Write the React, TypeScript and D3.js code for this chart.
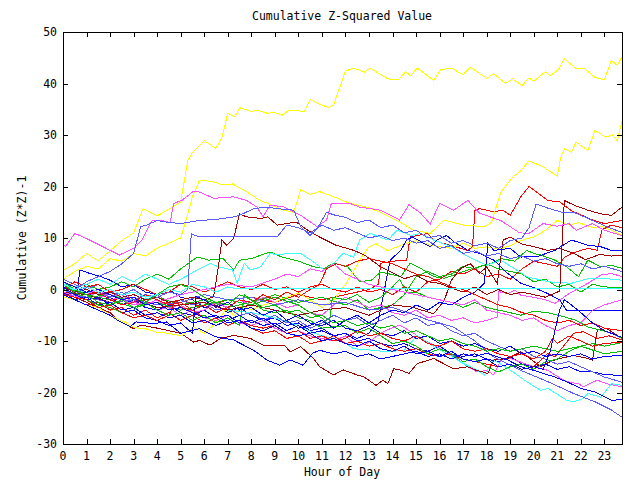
import React from "react";
import * as d3 from "d3";

type P = [number, number];

const title = "Cumulative Z-Squared Value";
const xLabel = "Hour of Day";
const yLabel = "Cumulative (Z*Z)-1";
const xTicks = d3.range(0, 24);
const yTicks = [-30, -20, -10, 0, 10, 20, 30, 40, 50];
const xDomain: [number, number] = [0, 23.75];
const yDomain: [number, number] = [-30, 50];

const palette = {
  red: "#ff0000",
  green: "#00c000",
  blue: "#0000ff",
  magenta: "#ff50ff",
  cyan: "#40ffff",
  darkred: "#a00000",
  yellow: "#ffff00",
  periwinkle: "#5a5aff",
};

const yellow1: P[] = [[0,3.7],[0.5,5],[1,7],[1.5,5.6],[2,7.5],[2.5,9.5],[3,11],[3.4,15.7],[4,14.3],[4.5,15.6],[5,17],[5.3,25],[5.5,26.6],[6,28.9],[6.5,27.4],[6.75,29.5],[7,34.2],[7.3,33.5],[7.5,35.3],[8,34.6],[8.25,34.8],[8.7,34.2],[9,34.4],[9.3,33.8],[9.6,34.8],[10.25,34.6],[10.5,36.9],[10.9,36],[11.3,35.3],[11.5,35.9],[12,42.4],[12.35,43],[12.8,42.2],[13.05,43],[13.8,40.9],[14.25,40.7],[14.55,42.3],[14.77,41.5],[15.05,43],[15.75,40.6],[16.05,42.7],[16.5,43],[17,41.7],[17.3,43.2],[18,41],[18.3,41.9],[18.8,40],[19.1,40.9],[19.5,39.6],[19.8,41.1],[20,40.4],[20.5,42.3],[20.7,41.5],[21.05,42.7],[21.3,44.8],[21.8,42.9],[22.15,42.9],[22.6,41.2],[23,40.7],[23.3,44.5],[23.55,43.5],[23.75,45.2]];
const yellow2: P[] = [[0,2],[0.5,3.5],[1,4.5],[1.5,4],[2,6],[2.5,5.5],[3,7],[3.5,6.5],[4,8],[4.5,9],[5,10],[5.25,13.8],[5.5,18],[5.8,21.2],[6.3,21],[6.8,20.3],[7.2,20.5],[7.8,19],[8.3,17.5],[8.8,16.5],[9.3,15.5],[9.8,15],[10.1,19.3],[10.5,18.5],[10.9,19],[11.5,18],[12.2,16.7],[12.9,16],[13.5,15],[14.2,13.4],[14.9,11.5],[15.6,10.9],[16.2,13.5],[17,12.5],[17.9,12.2],[18.2,13],[18.6,18.9],[19.1,21.8],[19.4,22.8],[19.8,25],[20.4,23.8],[21,22],[21.15,25.7],[21.3,27.3],[21.6,26.7],[21.8,28.6],[22.3,27],[22.6,30.9],[23.05,29.6],[23.35,30],[23.55,28.9],[23.75,32.7]];
const yellow3: P[] = [[0,-1.5],[0.5,-2],[1,-3],[1.5,-3.5],[2,-5],[2.7,-6.5],[3,-7.4],[3.5,-7.6],[4,-8.3],[4.5,-8.5],[5,-9],[5.3,-8],[5.6,-7.4],[6,-8.5],[6.5,-6.5],[6.9,-4],[7.3,-5],[7.6,-3],[8,-4],[8.5,-3],[9,-2.5],[9.5,-1.5],[10,-0.7],[10.5,-2],[11,-3.5],[11.5,-2],[12,1],[12.4,4],[12.7,6.4],[13,8.3],[13.3,8.9],[13.8,7.5],[14.3,8.5],[15,9.5],[15.7,8.5],[16.5,8],[17,9],[17.5,8],[18,8.3],[18.5,7.8],[19,8.5],[19.45,9.5],[20,10.2],[20.5,11.5],[21,13.4],[21.5,12.5],[21.9,13],[22.5,12],[22.9,12.2],[23.3,11.5],[23.75,10.5]];
const magenta1: P[] = [[0,8.9],[0.1,8.3],[0.5,10.9],[1,9.9],[2,7.6],[2.4,6.7],[3,8],[3.35,9.6],[3.77,13.3],[4.13,13.5],[4.55,13],[4.7,16.7],[5.05,17.3],[5.55,19.1],[5.83,18.9],[6.4,17.7],[7.25,18],[7.8,17.3],[8.24,16],[8.5,14.1],[8.8,16.4],[9.4,16],[10.1,14.4],[10.8,12.2],[11.2,13.5],[11.4,16.7],[12.2,16.7],[12.6,16],[13.5,15.4],[14.3,13.5],[14.7,16.5],[15.2,14.8],[15.6,12.7],[16,16.7],[16.6,15.4],[17.2,17.3],[17.7,14.8],[18.6,13.4],[19.4,11],[19.8,10.9],[20.4,12.8],[21,12.3],[21.5,12.8],[21.8,11.5],[22.5,12.8],[23,11.5],[23.5,10.8],[23.75,10.5]];
const periwinkle1: P[] = [[0,1],[0.5,0],[1,1.5],[1.5,2.5],[2,3.5],[2.5,5],[3,7],[3.3,12.2],[3.55,12.5],[4,13.4],[4.4,13.1],[5,12.8],[5.8,13.4],[6.5,13.6],[7.25,14.1],[7.5,14.4],[8.1,15.7],[8.66,16],[9.1,15.7],[9.8,15.4],[10.1,12.2],[10.5,10.5],[10.8,11.8],[11.2,15],[11.5,14.5],[12,14],[12.5,13],[13,13.5],[13.5,12],[14,12.5],[14.5,11],[15,11.5],[15.5,10],[16,10.5],[16.5,9],[17,9.5],[17.5,8.5],[18,9],[18.5,8],[19,9.5],[19.5,10],[19.8,12],[20.1,16.6],[20.6,15.8],[21.2,15],[21.7,15],[22.2,14],[22.7,13],[23.2,12],[23.75,11.1]];
const periwinkle2: P[] = [[0,0],[0.5,-1],[1,0.5],[1.5,-0.5],[2,-1.5],[2.5,-0.5],[3,-2],[3.5,-1],[4,-1.5],[4.5,-0.5],[5,-1],[5.3,0],[5.45,10.8],[5.8,10.2],[9.1,10.2],[9.5,12.5],[10,12],[10.5,11],[11,12.5],[11.5,11.5],[12,12],[12.5,11],[13,10],[13.5,10.5],[14,9.5],[14.5,10],[15,9],[15.5,9.5],[16,8],[16.5,8.5],[17,7],[17.5,7.5],[18,6.5],[18.5,7],[19,6],[19.5,6.5],[20,5.5],[20.5,6],[21,5],[21.5,4.5],[22,5],[22.5,4],[23,4.5],[23.75,3.5]];
const darkred1: P[] = [[0,0.5],[0.5,-0.5],[1,0],[1.5,-1],[2,-0.5],[2.5,-1.5],[3,-1],[3.5,-2],[4,-1.5],[4.5,-2.5],[5,-2],[5.5,-1.5],[6,-2],[6.4,-1.4],[6.6,4.4],[6.75,9.6],[6.95,8.6],[7.1,9.2],[7.25,9.9],[7.5,14.7],[7.8,14.1],[8.4,13.8],[8.7,14.1],[9.1,12.5],[9.5,12.8],[9.9,13.1],[10.5,11.2],[10.9,10.2],[11.6,8.6],[12.35,7.6],[12.8,6.7],[13.5,4.4],[14.05,3.1],[14.5,2.1],[15,2.8],[15.5,1.5],[16,1.2],[16.5,0.3],[17,-0.5],[17.5,0.5],[18,-1],[18.5,0],[19,-1],[19.5,-0.5],[20,-1],[20.5,-1.5],[21.1,-0.3],[21.3,17.3],[21.7,16.4],[22.3,15.4],[22.85,14.7],[23.3,14.4],[23.75,16]];
const red1: P[] = [[0,0.5],[1,-1],[2,-2],[3,-1.5],[4,-3],[5,-2],[6,-3.5],[7,-2],[8,-1.5],[9,-2.5],[10,-1],[11,-2],[12,-1],[13,0],[13.4,1],[13.5,5.1],[14,5.5],[14.6,5.7],[14.75,10.2],[15.5,10.9],[15.75,9.6],[16.2,8.9],[17.2,7.6],[17.4,8.3],[17.5,15.4],[17.7,15.7],[18.3,15.1],[18.7,15.4],[19,14.4],[19.45,18],[19.8,20],[20.6,17.3],[21.1,17],[21.6,15.3],[22,14.5],[22.5,13.5],[23,12.8],[23.75,13.4]];
const darkred3: P[] = [[0,-0.5],[1,-1],[2,-2.5],[3,-2],[4,-3.5],[5,-3],[6,-2.5],[7,-4],[8,-3],[9,-4],[10,-5],[11,-4],[12,-3.5],[13,-5],[14,-3],[14.8,-3.4],[15.75,-4.7],[16.2,-2.1],[16.5,1.8],[16.9,4.1],[17.3,5],[17.7,3.1],[18,4.4],[18.45,1.2],[18.7,9.6],[19,10.2],[19.45,8.9],[20,8.3],[20.6,7.6],[21.1,8],[21.7,7],[22.2,5.8],[22.8,6.8],[23.3,6.5],[23.75,6.7]];
const darkred2: P[] = [[0,-0.5],[0.5,-1.5],[1,-2.5],[1.5,-3.5],[2,-4.5],[2.3,-5.9],[3,-7.6],[3.3,-6.9],[4,-7.5],[4.5,-8],[5,-8.5],[5.55,-10.2],[5.8,-9.9],[6.25,-10.8],[6.7,-9.5],[7.25,-8.9],[7.96,-9.5],[8.5,-10.8],[9.4,-10.8],[9.65,-12.1],[10.1,-11.1],[10.65,-13.4],[10.9,-15],[11.5,-16.6],[11.9,-15.6],[12.5,-16.6],[12.8,-17],[13.3,-18.6],[13.6,-17.6],[13.8,-18.3],[14.05,-15.4],[14.3,-15.6],[14.7,-16.3],[15.05,-14.4],[15.75,-13.4],[16.6,-15.4],[17.2,-15],[17.5,-15.6],[18.05,-16.3],[18.3,-13.7],[18.9,-13.4],[19.45,-12.1],[20.3,-15],[20.7,-14],[21.1,-13.4],[21.7,-12.8],[22.3,-13.4],[22.5,-13.7],[22.7,-7.9],[23.1,-7.6],[23.75,-9.5]];
const cyanFlat: P[] = [[0,1],[0.5,0],[1,0.5],[1.5,-0.5],[2,0],[2.5,-1],[3,-0.5],[3.5,-1.5],[4,-1],[4.5,0],[5,-0.5],[5.5,1],[6,0.5],[6.5,-0.5],[7,0.5],[7.3,0.2],[23.75,0.2]];
const cyanUp: P[] = [[0,1.5],[0.5,0.5],[1,1],[1.5,2],[2,1],[2.5,2.5],[3,1.5],[3.5,3],[4,2],[4.5,1],[5,2],[5.55,3.4],[6.25,5.1],[6.6,4.4],[7.2,3.8],[7.4,1.2],[7.7,5.1],[7.96,3.8],[8.4,4.4],[8.8,7],[9.2,6.7],[9.5,7],[10.1,7],[10.6,5.5],[11.1,3.8],[11.5,5.1],[11.9,7],[12.35,6.3],[12.6,9.6],[13.05,10.9],[13.8,9.6],[14.2,11.5],[14.8,10.5],[15.2,10.9],[15.75,9.6],[16.5,8.3],[17.2,6.4],[18,4.7],[18.6,5.7],[19.2,4],[19.7,2.5],[20.6,1.5],[21.6,1.2],[22.3,2.1],[23.1,2.1],[23.75,1.8]];
const cyanLow: P[] = [[0,0.5],[1,-0.5],[2,-1],[3,-2],[4,-1.5],[5,-3],[6,-2.5],[7,-4],[8,-4.5],[9,-5.5],[10,-7],[10.9,-8.9],[11.8,-9.8],[12.35,-11.5],[13.2,-11.8],[13.8,-12.1],[14.5,-11.8],[15.05,-8.9],[15.75,-11.1],[16.3,-12.4],[16.9,-14.1],[17.6,-15.7],[17.9,-16.6],[18.3,-13.7],[18.9,-15.3],[19.7,-17.9],[20.3,-19.6],[20.6,-19.2],[21.4,-21.5],[21.7,-21.8],[22.1,-21.2],[22.3,-20.2],[22.85,-20.9],[23.3,-18.3],[23.75,-18.6]];
const green1: P[] = [[0,1.5],[0.5,0.5],[1,1],[1.5,0],[2,0.5],[2.5,1.5],[3,0.5],[3.5,2],[4,3],[4.5,2],[5,4],[5.7,6.3],[6.2,5.7],[6.8,6],[7.25,3.8],[7.5,5.7],[8,6],[8.8,7.3],[9.3,6.3],[10,5.5],[10.65,4.4],[11.1,4.1],[11.5,5.1],[12.1,4.4],[12.6,1.5],[13.1,1.8],[13.5,3.4],[14.35,2.5],[14.75,5.1],[15.2,4.1],[15.75,2.5],[16.2,2.2],[16.6,2.8],[17.2,3.8],[18.2,5.1],[18.6,6],[19.2,5.5],[19.7,7.6],[20,7],[20.3,6.7],[20.9,5.7],[21.4,4.4],[21.9,2.5],[22.3,5.7],[22.85,4.4],[23.3,4.7],[23.75,4.1]];
const green2: P[] = [[0,0],[1,-1.5],[2,-1],[3,-2.5],[4,-1.5],[5,-3],[6,-2],[7,-3.5],[8,-2.5],[9,-1],[10,-2.5],[11,-1.5],[12,-3],[12.5,-2],[13,-4],[14,-3],[14.5,-1],[15,2.5],[15.5,3.5],[16,2.5],[16.5,3],[17,4.5],[17.5,4],[18,5],[18.5,4],[19,3.5],[19.5,3],[20,1.5],[20.5,2],[21,0.5],[21.5,1],[22,-0.5],[22.5,1],[23,0.5],[23.75,0.4]];
const green3: P[] = [[0,0.5],[1,-1],[2,-2],[3,-3.5],[4,-2.5],[5,-4],[6,-3],[7,-2],[8,-3],[9,-1.5],[10,-3],[10.5,-4.5],[11,-5.5],[11.3,-6.9],[11.45,-1.5],[12,-2],[12.5,-1],[13,-2.5],[13.5,-1.5],[14,0.5],[14.3,2],[14.6,-0.5],[15,-0.5],[15.5,-1.5],[16,-2],[16.5,-2.5],[17,-3.5],[17.5,-2.5],[18,-3.5],[18.5,-4],[19,-4.5],[19.45,-5],[20,-4.2],[20.7,-4.6],[21.3,-5.3],[21.8,-6],[22.3,-7.3],[22.85,-7.9],[23.3,-8.5],[23.75,-9.5]];
const green4: P[] = [[0,1],[0.5,-0.5],[1,-2],[1.5,-3],[2,-3.5],[2.5,-4.5],[3,-4],[3.5,-2.5],[4,-1],[4.5,0.5],[5,1],[5.5,0],[6,-1.5],[6.5,-2.5],[7,-3],[7.5,-1],[8,-2],[8.5,-4],[9,-4.5],[9.5,-4],[10,-5.5],[10.5,-6],[11,-7.5],[12,-7],[12.5,-8.5],[13,-7.5],[13.5,-9],[14,-10.5],[14.5,-10],[15,-11],[15.5,-12.5],[16,-11.5],[16.5,-12.5],[17,-14],[17.5,-13.5],[18,-15],[18.5,-16],[19,-15],[19.5,-14.5],[20,-15.5],[20.5,-14],[21,-13.5],[21.5,-12],[22,-11],[22.5,-10.5],[23,-11],[23.75,-10.3]];
const green5: P[] = [[0,1.5],[0.5,0],[1,-1],[1.5,-2.5],[2,-3],[2.5,-2],[3,-3.5],[3.5,-2.5],[4,-4],[4.5,-5],[5,-4.5],[5.5,-6],[6,-5],[6.5,-6.5],[7,-5.5],[7.5,-7],[7.7,-1],[8,-2],[8.5,-3.5],[9,-3],[9.5,-4.5],[10,-4],[10.5,-5.5],[11,-5],[11.5,-6.5],[12,-6],[12.5,-7],[13,-6.5],[13.5,-7.5],[14,-7],[14.5,-8.5],[15,-8],[15.5,-9],[16,-10],[16.5,-9.5],[17,-10.5],[17.5,-11],[18,-12],[18.5,-11.5],[19,-12],[20,-11],[21,-12],[22,-11],[23,-12.5],[23.75,-12]];
const blue1: P[] = [[0,-1],[0.5,-0.5],[0.6,-0.4],[0.72,3.8],[1.15,3.1],[1.6,2.5],[2,1.8],[2.5,0.5],[3,1],[3.5,-0.5],[4,-1],[4.5,0],[5,-1.5],[5.5,-2],[6,-3.5],[6.5,-3],[7,-4.5],[7.5,-3.5],[8,-5],[8.5,-6],[9,-5.5],[9.5,-7],[10,-6.5],[10.5,-8],[11,-7.5],[11.5,-9],[12,-8.5],[12.5,-10],[13,-9.5],[13.5,-10.5],[14,-11],[14.5,-10.5],[15,-11.5],[15.5,-12],[16,-11],[16.5,-12.5],[17,-13],[17.5,-12.5],[18,-13.5],[18.5,-14],[19,-13],[19.5,-14.5],[20,-15],[20.5,-14.5],[21,-15.5],[21.5,-15],[22,-16],[22.5,-16],[23,-16.5],[23.75,-16.7]];
const blue2: P[] = [[0,0.5],[0.5,-1],[1,-0.5],[1.5,-2],[2,-1.5],[2.5,-3],[3,-2],[3.5,-3.5],[4,-4],[4.5,-3],[5,-4.5],[5.5,-5],[6,-4],[6.5,-5.5],[7,-5],[7.5,-6.5],[8,-6],[8.5,-7],[9,-6.5],[9.5,-8],[10,-7],[10.5,-8.5],[11,-8],[11.5,-9],[12,-8.5],[12.5,-9.5],[13,-8.5],[13.4,-6],[13.9,5.7],[14.35,7.6],[14.6,9.6],[14.85,10.2],[15.2,9.3],[15.6,8.3],[15.9,9.6],[16.3,10.5],[16.6,9.3],[17.2,7.6],[17.7,7],[18.3,5.7],[18.9,3.1],[19.45,1.2],[20,0.4],[20.6,-0.8],[21.1,-2],[21.4,-4.1],[23.75,-4.1]];
const blue3: P[] = [[0,-0.5],[0.5,-2],[1,-1.5],[1.5,-3],[2,-2.5],[2.5,-4],[3,-3.5],[3.5,-5],[4,-4.5],[4.5,-5.5],[5,-5],[5.5,-6.5],[6,-6],[6.5,-7],[7,-6],[7.5,-5],[8,-6.5],[8.5,-5.5],[9,-7],[9.5,-6],[10,-7.5],[10.5,-7],[11,-6],[11.5,-7.5],[12,-6],[12.5,-5],[13,-6.5],[13.5,-5],[14,-4],[14.5,-4.5],[15,-3],[15.5,-4],[16,-2.5],[16.5,-3],[17,-1.5],[17.5,-0.5],[17.9,1.2],[18.05,9],[18.3,7.6],[19,8],[19.45,6.3],[20.15,6.4],[20.9,7.6],[21.6,9.6],[22.3,8.6],[22.85,8.3],[23.3,7.6],[23.75,7.6]];
const blue4: P[] = [[0,0.5],[0.5,-1],[1,-2],[1.5,-1.5],[2,-3],[2.5,-4.5],[3,-4],[3.5,-5.5],[4,-6],[4.5,-7],[5,-6.5],[5.5,-8.5],[5.65,-1.4],[6,-2],[6.5,-3.5],[7,-2.5],[7.5,-4],[8,-3.5],[8.5,-5],[9,-4],[9.5,-6],[10,-5],[10.5,-6.5],[11,-7],[11.5,-6],[12,-7.5],[12.5,-8],[13,-7],[13.5,-8.5],[14,-9],[14.5,-8],[15,-9.5],[15.5,-9],[16,-10.5],[16.5,-10],[17,-11],[17.5,-10.5],[18,-11.5],[18.5,-12],[19,-11],[19.5,-12.5],[20,-12],[20.5,-13],[21,-12.5],[21.5,-13],[22,-12.5],[22.5,-13.5],[23,-13],[23.75,-12.8]];
const blueLow: P[] = [[0,-1],[0.5,-2],[1,-3],[1.5,-4],[2,-5],[2.3,-5.9],[2.85,-7.2],[3.1,-6.3],[3.85,-6.6],[4.4,-6.3],[5,-8.5],[5.8,-7.6],[6.5,-9.2],[7.25,-9.8],[8.1,-11.8],[8.67,-13.7],[9.2,-14.7],[9.66,-13.7],[10.2,-14.7],[10.6,-12.4],[10.9,-11.8],[11.5,-12.5],[12,-12],[12.5,-13],[13,-12.5],[13.5,-13.5],[14,-13],[14.5,-12.5],[15,-12],[15.5,-13],[16,-12.5],[16.5,-13.5],[17,-12.5],[17.5,-13],[18,-12.4],[18.9,-13.7],[19.45,-15],[20,-15.7],[20.9,-17],[21.4,-17.9],[22,-19.2],[22.6,-19.9],[23.3,-21.5],[23.75,-21.4]];
const blue5: P[] = [[0,1.5],[0.5,0.5],[1,-0.5],[1.5,0],[2,-1],[2.5,-2],[3,-1.5],[3.5,-3],[4,-2.5],[4.5,-4],[5,-3.5],[5.5,-4.5],[6,-5.5],[6.5,-5],[7,-6.5],[7.5,-6],[8,-7.5],[8.5,-8],[9,-7],[9.5,-8.5],[10,-9],[10.5,-8.5],[11,-10],[11.5,-9.5],[12,-10.5],[12.5,-11],[13,-10],[13.5,-11.5],[14,-12],[14.5,-11],[15,-12.5],[15.5,-12],[16,-13],[16.5,-12],[17,-13.5],[17.5,-14],[18,-13.5],[18.5,-15],[19,-14.5],[19.5,-15.5],[20,-15],[20.4,-15.5],[20.7,-12],[20.9,-8],[21.1,-4],[21.3,-2],[21.6,-3],[22,-4.5],[22.5,-6.5],[23,-8],[23.75,-9.3]];
const periwinkleLow: P[] = [[0,-1],[1,-1.5],[2,-2.5],[3,-2],[4,-3],[5,-2.5],[6,-1],[7,-2],[8,-1.5],[9,-3],[10,-2],[11,-3],[12,-2.5],[13,-4],[14,-3.5],[15,-5],[15.5,-5.9],[16.6,-7.3],[17.5,-10],[18.3,-13.1],[19.45,-15.7],[20.6,-17.9],[21.7,-20.2],[22.6,-21.8],[23.3,-23.4],[23.75,-24.8]];
const periwinkle3: P[] = [[0,2],[0.5,1],[1,0],[1.5,1],[2,-0.5],[2.5,-1],[3,0],[3.5,-1.5],[4,-1],[4.5,-2.5],[5,-2],[5.5,-3],[6,-2.5],[6.5,-4],[7,-3.5],[7.5,-5],[8,-4.5],[8.5,-6],[9,-5],[9.5,-6.5],[10,-6],[10.5,-7.5],[11,-6.5],[11.5,-5],[12,-6],[12.5,-5.5],[13,-7],[13.5,-6],[14,-5],[14.5,-6.5],[15,-5.5],[15.5,-7],[16,-6.5],[16.5,-8],[17,-9],[17.5,-8.5],[18,-10],[18.5,-11],[19,-12],[19.5,-11.5],[20,-13],[20.5,-13.5],[21,-14.5],[21.5,-14],[22,-15],[22.5,-16],[23,-17],[23.75,-18]];
const magenta2: P[] = [[0,0],[0.5,-1],[1,-1.5],[1.5,-0.5],[2,-2],[2.5,-1.5],[3,-3],[3.5,-2.5],[4,-4],[4.5,-3.5],[5,-5],[5.5,-4],[6,-5.5],[6.5,-6],[7,-5],[7.5,-6.5],[8,-7],[8.5,-6],[9,-7.5],[9.5,-8.5],[10,-8],[10.5,-9],[11,-9.5],[11.5,-10],[12,-9],[12.5,-11],[12.9,-10.5],[13.5,-8.5],[13.9,-7.6],[14.3,-6.9],[14.9,-8.5],[15.2,-9.5],[15.75,-10.8],[16.3,-12.1],[16.6,-13.1],[17.2,-15],[17.6,-16],[18,-15.7],[18.3,-16.6],[18.6,-13.7],[19,-13.4],[19.45,-14.1],[20,-15],[20.6,-15.7],[20.9,-16.6],[21.4,-17.9],[21.9,-18.3],[22.1,-18.9],[22.7,-17.6],[23.1,-18.3],[23.75,-18.9]];
const magenta3: P[] = [[0,1],[0.5,0],[1,-1],[1.5,0],[2,-1.5],[2.5,-1],[3,-2.5],[3.5,-3],[4,-2],[4.5,-3.5],[5,-3],[5.5,-4.5],[6,-4],[6.5,-2.5],[7,-3.5],[7.5,-2],[8,-3],[8.5,-1.5],[9,-2.5],[9.5,-3.5],[10,-3],[10.5,-4.5],[11,-5],[11.5,-3],[12,-1.5],[12.5,-2.5],[13,-3.5],[13.5,-3],[14,-4.5],[14.5,-5],[15,-4],[15.5,-5.5],[16,-5],[16.5,-6],[17,-5.5],[17.5,-6.5],[18,-6],[18.45,-5.3],[18.5,-0.4],[18.9,-0.8],[19.2,-0.1],[19.45,-1.1],[20,-1.5],[20.5,-2],[20.9,-2.7],[21.5,-0.8],[22.3,1.2],[22.85,2.8],[23.3,3.1],[23.75,2.5]];
const magenta4: P[] = [[0,-0.5],[1,-2],[2,-1],[3,-3],[4,-2.5],[5,-1],[6,0],[7,1],[8,0.5],[9,2],[9.5,3],[10,2.5],[10.5,4],[11,3.5],[11.5,5],[12,3],[12.5,2],[13,1],[14,0],[15,-1],[16,-2],[17,-3],[17.5,-2],[18,-4],[19,-5],[19.5,-6],[20,-5.5],[20.5,-7],[21,-8],[21.5,-7],[22,-6.5],[22.5,-4],[23,-3],[23.75,-2]];
const red2: P[] = [[0,0],[0.5,1.5],[1,0.5],[1.5,1],[2,-0.5],[2.5,0],[3,1],[3.5,0],[4,-1],[4.5,-0.5],[5,1],[5.5,0.5],[6,-0.5],[6.5,0.5],[7,1.5],[7.5,0.5],[8,0],[8.5,1],[9,0],[9.5,0.5],[10,-0.5],[10.5,0.5],[11,1],[11.5,0],[12,-0.5],[12.5,0.5],[13,-0.5],[13.5,0],[14,-1],[14.5,0.5],[15,-0.5],[15.5,1.5],[16,2],[16.5,3.5],[17,3],[17.5,4],[18,2.5],[18.5,3],[19,2],[19.5,4],[20,5.5],[20.5,5],[21,4.5],[21.3,6.2],[21.6,7],[22.3,8],[22.7,7.6],[22.9,11.6],[23.3,12.5],[23.75,12]];
const red3: P[] = [[0,-0.5],[0.5,-2],[1,-3],[1.5,-2.5],[2,-4],[2.5,-3.5],[3,-5],[3.5,-4],[4,-5.5],[4.5,-4.5],[5,-6],[5.5,-5],[6,-6.5],[6.5,-5.5],[7,-7],[7.5,-6],[8,-7.5],[8.5,-8.5],[9,-8],[9.5,-9.5],[10,-9],[10.5,-10.5],[11,-10],[11.5,-9],[12,-10.5],[12.5,-10],[13,-11],[13.5,-10.5],[14,-11.5],[14.5,-12],[15,-11.5],[15.5,-12.5],[16,-13],[16.5,-12.5],[17,-13.5],[17.5,-14],[18,-14.5],[18.5,-15],[19,-14.5],[19.5,-15.5],[20,-15],[20.3,-13.7],[20.6,-12.4],[20.9,-13.1],[21.3,-10.8],[21.7,-8.5],[22.1,-8.2],[22.7,-9.5],[23.2,-9],[23.75,-9.8]];
const red4: P[] = [[0,1],[0.5,0],[1,-1],[1.5,-0.5],[2,-2],[2.5,-3],[3,-2.5],[3.5,-1],[4,-2],[4.5,-3],[5,-2.5],[5.5,-4],[6,-3],[6.5,-4.5],[7,-3.5],[7.5,-2],[8,-2.5],[8.5,-1],[9,-2],[9.5,-0.5],[10,-1.5],[10.5,0],[10.9,1],[11.2,4],[11.6,5],[12,4.5],[12.5,5.5],[13,6],[13.5,5.5],[14,5],[14.5,4],[15,3],[15.5,2.5],[16,1.5],[16.5,0.5],[17,0],[17.5,-1],[18,-2],[18.5,-3],[19,-3.5],[19.5,-4.5],[20,-5],[20.5,-6],[21,-6.5],[21.5,-6],[22,-7],[22.5,-6.5],[23,-7.5],[23.75,-8]];
const red5: P[] = [[0,-1],[0.5,-1.5],[1,-2],[1.5,-3.5],[2,-3],[2.5,-4.5],[3,-5.5],[3.5,-5],[4,-6],[4.5,-5],[4.8,-2],[5,-3.5],[5.5,-4],[6,-5.5],[6.5,-5],[7,-6.5],[7.5,-6],[8,-7],[8.5,-7.5],[9,-7],[9.5,-8.5],[10,-8],[10.5,-9.5],[11,-9],[11.5,-10],[12,-9.5],[12.5,-8],[13,-9],[13.5,-8.5],[14,-9.5],[14.5,-10],[15,-9],[15.5,-10.5],[16,-11],[16.5,-10],[17,-11.5],[17.5,-12],[18,-11.5],[18.5,-12.5],[19,-13],[19.5,-12.5],[20,-13.5],[20.5,-12],[20.8,-9.5],[21,-10.5],[21.5,-9],[22,-10],[22.5,-11],[23,-10.5],[23.75,-10.2]];

const series: { values: P[]; color: keyof typeof palette }[] = [
  { values: red1, color: "red" },
  { values: green1, color: "green" },
  { values: blue1, color: "blue" },
  { values: magenta2, color: "magenta" },
  { values: cyanLow, color: "cyan" },
  { values: darkred2, color: "darkred" },
  { values: yellow3, color: "yellow" },
  { values: periwinkle3, color: "periwinkle" },
  { values: red2, color: "red" },
  { values: green2, color: "green" },
  { values: blue2, color: "blue" },
  { values: magenta3, color: "magenta" },
  { values: cyanUp, color: "cyan" },
  { values: darkred3, color: "darkred" },
  { values: yellow2, color: "yellow" },
  { values: periwinkleLow, color: "periwinkle" },
  { values: red3, color: "red" },
  { values: green3, color: "green" },
  { values: blue3, color: "blue" },
  { values: magenta4, color: "magenta" },
  { values: darkred1, color: "darkred" },
  { values: yellow1, color: "yellow" },
  { values: periwinkle2, color: "periwinkle" },
  { values: red4, color: "red" },
  { values: green4, color: "green" },
  { values: blue4, color: "blue" },
  { values: magenta1, color: "magenta" },
  { values: periwinkle1, color: "periwinkle" },
  { values: red5, color: "red" },
  { values: green5, color: "green" },
  { values: blueLow, color: "blue" },
  { values: blue5, color: "blue" },
  { values: cyanFlat, color: "cyan" },
];

const W = 640;
const H = 480;
const left = 63;
const right = 622;
const top = 32;
const bottom = 444;
const font = "'DejaVu Sans Mono', monospace";

export default function App() {
  const x = d3.scaleLinear().domain(xDomain).range([left, right]);
  const y = d3.scaleLinear().domain(yDomain).range([bottom, top]);
  const line = d3
    .line<P>()
    .x((d) => x(d[0]))
    .y((d) => y(d[1]));
  const tl = 5;
  return (
    <svg
      width={W}
      height={H}
      style={{ position: "absolute", left: 0, top: 0, background: "#fff", display: "block" }}
    >
      <rect x={0} y={0} width={W} height={H} fill="#fff" />
      <defs>
        <clipPath id="plot">
          <rect x={left} y={top} width={right - left + 1} height={bottom - top + 1} />
        </clipPath>
      </defs>
      <g clipPath="url(#plot)">
        {series.map((s, i) => (
          <path
            key={i}
            d={line(s.values) || ""}
            fill="none"
            stroke={palette[s.color]}
            strokeWidth={1}
            shapeRendering="crispEdges"
          />
        ))}
      </g>
      <g stroke="#000" strokeWidth={1} shapeRendering="crispEdges">
        {yTicks.map((t) => (
          <g key={"y" + t}>
            <line x1={left} x2={left + tl} y1={Math.round(y(t)) + 0.5} y2={Math.round(y(t)) + 0.5} />
            <line x1={right - tl} x2={right} y1={Math.round(y(t)) + 0.5} y2={Math.round(y(t)) + 0.5} />
          </g>
        ))}
        {xTicks.map((t) => (
          <g key={"x" + t}>
            <line x1={Math.round(x(t)) + 0.5} x2={Math.round(x(t)) + 0.5} y1={bottom} y2={bottom - tl} />
            <line x1={Math.round(x(t)) + 0.5} x2={Math.round(x(t)) + 0.5} y1={top} y2={top + tl} />
          </g>
        ))}
        <rect x={left + 0.5} y={top + 0.5} width={right - left} height={bottom - top} fill="none" />
      </g>
      <g fontFamily={font} fontSize={11.5} fill="#000">
        {yTicks.map((t) => (
          <text key={"yl" + t} x={left - 6} y={y(t)} dy="0.35em" textAnchor="end">
            {t}
          </text>
        ))}
        {xTicks.map((t) => (
          <text key={"xl" + t} x={x(t)} y={bottom + 12} dy="0.35em" textAnchor="middle">
            {t}
          </text>
        ))}
        <text x={342} y={16} dy="0.35em" textAnchor="middle">
          {title}
        </text>
        <text x={342} y={472} dy="0.35em" textAnchor="middle">
          {xLabel}
        </text>
        <text transform={`translate(22,${(top + bottom) / 2}) rotate(-90)`} dy="0.35em" textAnchor="middle">
          {yLabel}
        </text>
      </g>
    </svg>
  );
}
